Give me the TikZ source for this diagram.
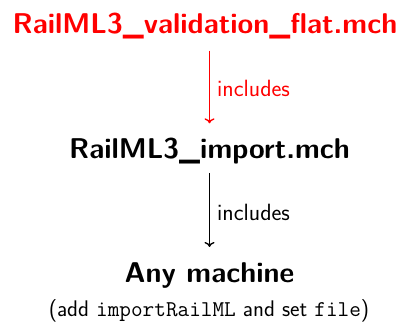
\documentclass[tikz,border=0pt]{standalone}
\usepackage{fontspec}
\usetikzlibrary{arrows.meta}
\begin{document}
\begin{tikzpicture}[x=1pt,y=1pt,
  title/.style={font=\sffamily\bfseries\fontsize{28.6}{32}\selectfont, inner sep=0pt, anchor=base},
  lbl/.style={font=\sffamily\fontsize{23.5}{26}\selectfont, inner sep=0pt, anchor=west},
  sub/.style={font=\sffamily\fontsize{22.6}{26}\selectfont, inner sep=0pt, anchor=base},
  conn/.style={-{To[width=10pt,length=5pt]}, line width=1.4pt}]
\useasboundingbox (0,0) rectangle (406,-322);
\node[title, text=red] (t1) at (205,-33) {RailML3\_validation\_flat.mch};
\node[title] (t2) at (209.5,-158) {RailML3\_import.mch};
\node[title] (t3) at (209.5,-282) {Any machine};
\node[sub] (s) at (209,-316) {(add \texttt{importRailML} and set \texttt{file})};
\draw[conn, red, shorten <=12pt, shorten >=14pt] (t1.south -| t2.north) -- node[lbl, right=7pt, text=red] (l1) {includes} (t2.north);
\draw[conn, shorten <=9pt, shorten >=15pt] (t2.south) -- node[lbl, right=7pt] (l2) {includes} (t3.north);
\end{tikzpicture}
\end{document}
